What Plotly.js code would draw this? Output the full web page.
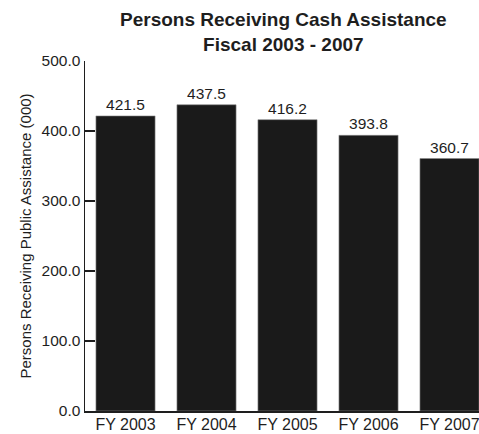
<!DOCTYPE html>
<html>
<head>
<meta charset="utf-8">
<script src="https://cdn.plot.ly/plotly-3.0.1.min.js"></script>
<style>html,body{margin:0;padding:0;background:#fff;}#chart{width:479px;height:434px;}</style>
</head>
<body>
<div id="chart"></div>
<script>
var categories = ["FY 2003", "FY 2004", "FY 2005", "FY 2006", "FY 2007"];
var values = [421.5, 437.5, 416.2, 393.8, 360.7];
var valueLabels = ["421.5", "437.5", "416.2", "393.8", "360.7"];
var yTickVals = [0, 100, 200, 300, 400, 500];
var yTickText = ["0.0", "100.0", "200.0", "300.0", "400.0", "500.0"];
var titleText = "<b>Persons Receiving Cash Assistance<br>Fiscal 2003 - 2007</b>";
var yTitleText = "Persons Receiving Public Assistance (000)";

var FONT = "Arial, 'Liberation Sans', sans-serif";

var trace = {
  type: "bar",
  x: categories,
  y: values,
  text: valueLabels,
  textposition: "outside",
  cliponaxis: false,
  textfont: {family: FONT, size: 15.5, color: "#1e1e1e"},
  marker: {color: "#1a1a1a", line: {color: "#8a8a8a", width: 0.6}},
  hoverinfo: "none"
};

var layout = {
  width: 479,
  height: 434,
  paper_bgcolor: "#fff",
  plot_bgcolor: "#fff",
  margin: {l: 85, r: 0, t: 61, b: 23},
  bargap: 0.27,
  showlegend: false,
  annotations: [{
    text: titleText,
    xref: "paper", yref: "paper",
    x: 0.505, y: 1.0, xanchor: "center", yanchor: "bottom",
    yshift: 4,
    showarrow: false,
    font: {family: FONT, size: 19, color: "#1e1e1e"}
  }],
  xaxis: {
    type: "category",
    range: [-0.5, 4.364],
    showline: true, linecolor: "#1e1e1e", linewidth: 1.5,
    ticks: "", showgrid: false, zeroline: false,
    ticklabelstandoff: -2,
    tickfont: {family: FONT, size: 16, color: "#1e1e1e"}
  },
  yaxis: {
    range: [0, 500],
    tickvals: yTickVals, ticktext: yTickText,
    showline: true, linecolor: "#1e1e1e", linewidth: 1.5,
    ticks: "inside", ticklen: 10, tickcolor: "#1e1e1e", tickwidth: 1.5,
    showgrid: false, zeroline: false,
    tickfont: {family: FONT, size: 15.5, color: "#1e1e1e"},
    title: {text: yTitleText, font: {family: FONT, size: 15, color: "#1e1e1e"}, standoff: 6}
  }
};

Plotly.newPlot("chart", [trace], layout, {staticPlot: true, displayModeBar: false});
</script>
</body>
</html>
